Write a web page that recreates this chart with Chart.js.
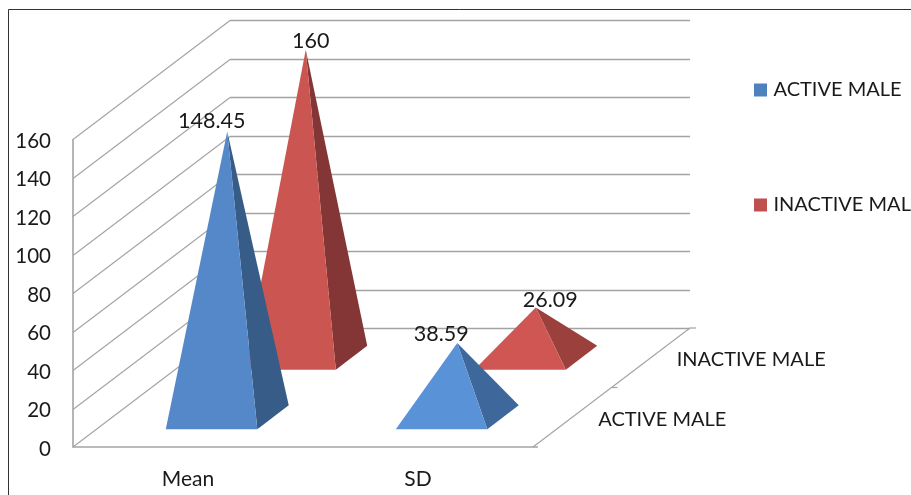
<!DOCTYPE html>
<html>
<head>
<meta charset="utf-8">
<style>html,body{margin:0;padding:0;background:#fff;overflow:hidden}canvas{display:block}</style>
<script src="https://cdn.jsdelivr.net/npm/chart.js@4"></script>
</head>
<body>
<canvas id="c" width="911" height="495" style="width:911px;height:495px"></canvas>
<script>
const categories = ['Mean', 'SD'];
const activeMale = [148.45, 38.59];
const inactiveMale = [160, 26.09];
const seriesNames = ['ACTIVE MALE', 'INACTIVE MALE'];
const valueLabels = [['148.45', '38.59'], ['160', '26.09']];
const yTicks = [0, 20, 40, 60, 80, 100, 120, 140, 160];

const legendColors = ['#4F81BD', '#C0504D'];
const frontColors = [['#5588C8', '#5A92D8'], ['#CB5651', '#D05654']];
const sideColors = [['#375C87', '#3E689B'], ['#843536', '#9B403C']];
const labelShift = [[-15.5, -16], [5, 14.5]];
const labelRise = [[13, 12], [12, 10]];

const DEPTH_X = 157, DEPTH_Y = 119;
const seriesDepth = [0.25, 0.75];
const HALF_DEPTH = 0.1;
const FONT = 'Lato, Carlito, Calibri, sans-serif';
const TEXT = '#1a1a1a';
const GRID = '#a3a3a3';

function line(ctx, x1, y1, x2, y2, w) {
  ctx.lineWidth = w;
  ctx.beginPath(); ctx.moveTo(x1, y1); ctx.lineTo(x2, y2); ctx.stroke();
}
function tri(ctx, a, b, c, color) {
  ctx.fillStyle = color;
  ctx.beginPath(); ctx.moveTo(a[0], a[1]); ctx.lineTo(b[0], b[1]); ctx.lineTo(c[0], c[1]); ctx.closePath(); ctx.fill();
}

const pyramids = {
  id: 'pyramids',
  beforeDraw(chart) {
    const ctx = chart.ctx;
    ctx.save();
    ctx.fillStyle = '#fff';
    ctx.fillRect(0, 0, chart.width, chart.height);
    ctx.strokeStyle = '#333333';
    ctx.lineWidth = 1;
    ctx.beginPath(); ctx.moveTo(8.5, chart.height); ctx.lineTo(8.5, 9.5); ctx.lineTo(chart.width, 9.5); ctx.stroke();
    ctx.restore();
  },
  afterLayout(chart) {
    const l = chart.legend;
    l.maxHeight = 2000;
    l.maxWidth = 400;
    l.fit();
    const pad = l.options.labels.padding;
    l.left = 757.5 - pad; l.right = l.left + l.width;
    l.top = 80 - pad; l.bottom = l.top + l.height;
  },
  beforeDatasetsDraw(chart) {
    const ctx = chart.ctx, { left, right } = chart.chartArea, y = chart.scales.y;
    ctx.save();
    ctx.strokeStyle = GRID;
    yTicks.forEach(v => {
      const py = Math.round(y.getPixelForValue(v)) + 0.5;
      if (v > 0) line(ctx, left, py, left + DEPTH_X, py - DEPTH_Y, 1.1);
      line(ctx, left + DEPTH_X, py - DEPTH_Y, right + DEPTH_X, py - DEPTH_Y, 1.5);
    });
    const y0 = y.getPixelForValue(0);
    line(ctx, left, y0, left + DEPTH_X, y0 - DEPTH_Y, 1.1);
    line(ctx, right, y0, right + DEPTH_X, y0 - DEPTH_Y, 1.1);
    line(ctx, left, y.getPixelForValue(160), left, y0 + 0.75, 1.6);
    line(ctx, left, y0, right + 5, y0, 1.6);
    [0.5, 1].forEach(d => line(ctx, right + DEPTH_X * d, y0 - DEPTH_Y * d, right + DEPTH_X * d + 6, y0 - DEPTH_Y * d, 1.2));
    ctx.fillStyle = TEXT;
    ctx.font = '20px ' + FONT;
    ctx.textAlign = 'left';
    ctx.textBaseline = 'middle';
    seriesNames.forEach((name, i) => {
      const d = seriesDepth[i];
      ctx.fillText(name, right + DEPTH_X * d + 26, y0 - DEPTH_Y * d + 2);
    });
    ctx.restore();
  },
  beforeDatasetDraw(chart, args) {
    const ctx = chart.ctx, i = args.index, d = seriesDepth[i];
    const sx = DEPTH_X * d, sy = DEPTH_Y * d;
    const hx = DEPTH_X * HALF_DEPTH, hy = DEPTH_Y * HALF_DEPTH;
    args.meta.data.forEach((bar, j) => {
      const cx = bar.x + sx, base = bar.base - sy, top = bar.y - sy, half = bar.width / 2;
      const apex = [cx, top];
      const fl = [cx - half - hx, base + hy];
      const fr = [cx + half - hx, base + hy];
      const br = [cx + half + hx, base - hy];
      tri(ctx, apex, fr, br, sideColors[i][j]);
      tri(ctx, apex, fl, fr, frontColors[i][j]);
    });
    return false;
  },
  afterDatasetsDraw(chart) {
    const ctx = chart.ctx;
    ctx.save();
    ctx.fillStyle = TEXT;
    ctx.font = '21.5px ' + FONT;
    ctx.textAlign = 'center';
    ctx.textBaseline = 'middle';
    chart.data.datasets.forEach((ds, i) => {
      const d = seriesDepth[i];
      chart.getDatasetMeta(i).data.forEach((bar, j) => {
        ctx.fillText(valueLabels[i][j], bar.x + DEPTH_X * d + labelShift[i][j], bar.y - DEPTH_Y * d - labelRise[i][j] + 3);
      });
    });
    ctx.restore();
  }
};

new Chart(document.getElementById('c'), {
  type: 'bar',
  data: {
    labels: categories,
    datasets: [
      { label: seriesNames[0], data: activeMale, backgroundColor: legendColors[0], borderColor: legendColors[0], borderWidth: 7, grouped: false, categoryPercentage: 1, barPercentage: 0.398 },
      { label: seriesNames[1], data: inactiveMale, backgroundColor: legendColors[1], borderColor: legendColors[1], borderWidth: 7, grouped: false, categoryPercentage: 1, barPercentage: 0.398 }
    ]
  },
  plugins: [pyramids],
  options: {
    responsive: false,
    animation: false,
    layout: { padding: { top: 139, right: 378, left: 0, bottom: 0 } },
    plugins: {
      legend: {
        position: 'chartArea',
        align: 'start',
        labels: { boxWidth: 6, boxHeight: 6, padding: 95, color: TEXT, font: { family: FONT, size: 20 } }
      },
      tooltip: { enabled: false }
    },
    scales: {
      x: {
        grid: { display: false },
        border: { display: false },
        ticks: { color: TEXT, padding: 12, font: { family: FONT, size: 21 }, maxRotation: 0 },
        afterFit(s) { s.height = 48; }
      },
      y: {
        min: 0, max: 160,
        afterBuildTicks(s) { s.ticks = yTicks.map(v => ({ value: v })); },
        grid: { display: false, drawTicks: false },
        border: { display: false },
        ticks: { color: TEXT, padding: 22, labelOffset: 2, font: { family: FONT, size: 20.5 } },
        afterFit(s) { s.width = 73; }
      }
    }
  }
});
</script>
</body>
</html>
